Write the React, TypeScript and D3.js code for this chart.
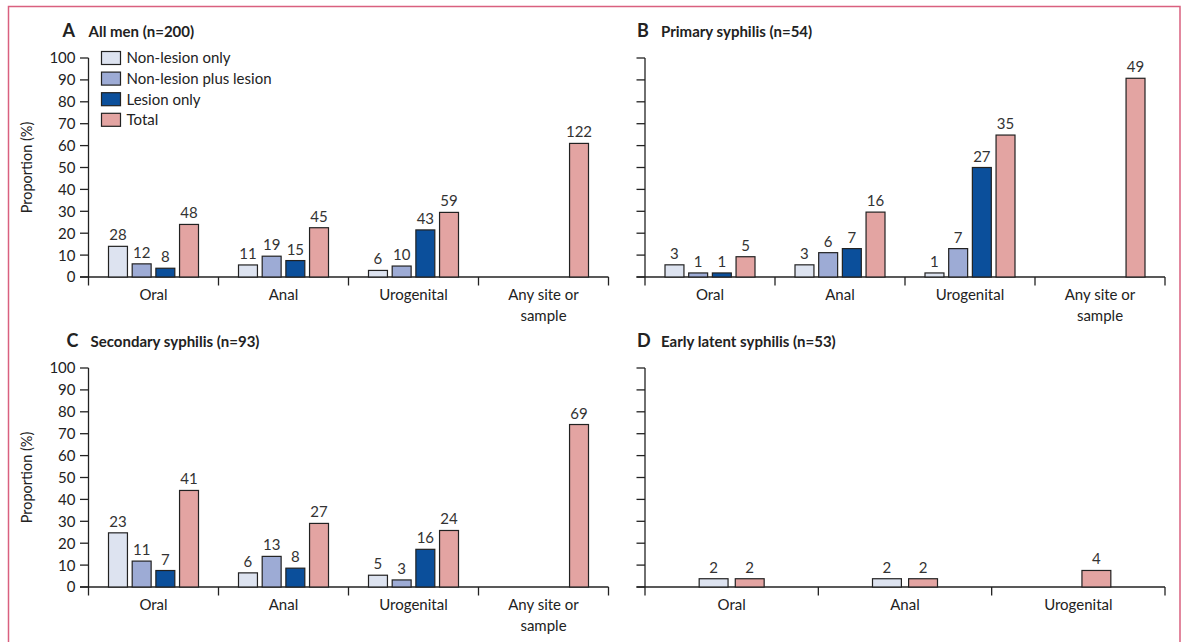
import React from "react";
import * as d3 from "d3";

// legend / series
const seriesNames = ["Non-lesion only", "Non-lesion plus lesion", "Lesion only", "Total"];
const seriesColors = ["#dde3f0", "#9dabd5", "#0b4f9b", "#e3a4a2"];

const sitesFour = ["Oral", "Anal", "Urogenital", "Any site or\nsample"];
const sitesThree = ["Oral", "Anal", "Urogenital"];
const yTicks = [0, 10, 20, 30, 40, 50, 60, 70, 80, 90, 100];

// A  All men (n=200) - counts
const aNonLesion = [28, 11, 6, null];
const aNonPlus = [12, 19, 10, null];
const aLesion = [8, 15, 43, null];
const aTotal = [48, 45, 59, 122];

// B  Primary syphilis (n=54)
const bNonLesion = [3, 3, 1, null];
const bNonPlus = [1, 6, 7, null];
const bLesion = [1, 7, 27, null];
const bTotal = [5, 16, 35, 49];

// C  Secondary syphilis (n=93)
const cNonLesion = [23, 6, 5, null];
const cNonPlus = [11, 13, 3, null];
const cLesion = [7, 8, 16, null];
const cTotal = [41, 27, 24, 69];

// D  Early latent syphilis (n=53)
const dNonLesion = [2, 2, null];
const dTotal = [2, 2, 4];

const FONT = "Lato, 'Open Sans', sans-serif";
const INK = "#222";

type PanelProps = {
  ox: number;
  oy: number;
  letter: string;
  title: string;
  letterDx: number;
  titleDx: number;
  n: number;
  sites: string[];
  slots: number[];
  values: (number | null)[][];
  groupWidth: number;
  yLabels: boolean;
  legend?: boolean;
};

const Panel = ({ ox, oy, letter, title, letterDx, titleDx, n, sites, slots, values, groupWidth, yLabels, legend }: PanelProps) => {
  const plotW = 520;
  const plotH = 219;
  const x = d3.scaleBand().domain(sites).range([0, plotW]).padding(0);
  const y = d3.scaleLinear().domain([0, 100]).range([0, -plotH]);
  const inner = d3
    .scaleBand<number>()
    .domain(slots)
    .range([-groupWidth / 2, groupWidth / 2])
    .paddingInner(0.2);
  const tick = 8.5;

  return (
    <g transform={`translate(${ox},${oy})`}>
      <text x={letterDx} y={-240} fontFamily={FONT} fontWeight="bold" fontSize={18} fill={INK}>{letter}</text>
      <text x={titleDx} y={-240} fontFamily={FONT} fontWeight="bold" fontSize={15} fill={INK}>{title}</text>

      {/* y axis */}
      <line x1={0} x2={0} y1={0} y2={y(100)} stroke={INK} strokeWidth={1.3} />
      {yTicks.map((t) => (
        <g key={t} transform={`translate(0,${y(t)})`}>
          <line x1={-tick} x2={0} stroke={INK} strokeWidth={1.3} />
          {yLabels && (
            <text x={-13} dy="0.36em" textAnchor="end" fontFamily={FONT} fontSize={15} fill={INK}>{t}</text>
          )}
        </g>
      ))}
      {yLabels && (
        <text transform={`translate(${-57},${y(50)}) rotate(-90)`} textAnchor="middle" fontFamily={FONT} fontSize={14.5} fill={INK}>
          Proportion (%)
        </text>
      )}

      {/* x axis */}
      <line x1={-tick} x2={plotW} y1={0} y2={0} stroke={INK} strokeWidth={1.3} />
      {[...sites.map((s) => x(s) as number), plotW].map((p, i) => (
        <line key={i} x1={p} x2={p} y1={0} y2={tick} stroke={INK} strokeWidth={1.3} />
      ))}
      {sites.map((s) => (
        <text key={s} x={(x(s) as number) + x.bandwidth() / 2} y={23} textAnchor="middle" fontFamily={FONT} fontSize={15} fill={INK}>
          {s.split("\n").map((line, i) => (
            <tspan key={i} x={(x(s) as number) + x.bandwidth() / 2} dy={i === 0 ? 0 : 20.5}>{line}</tspan>
          ))}
        </text>
      ))}

      {/* bars */}
      {sites.map((s, si) => {
        const cx = (x(s) as number) + x.bandwidth() / 2;
        return slots.map((slot, k) => {
          const v = values[k][si];
          if (v == null) return null;
          const pct = (v / n) * 100;
          const bx = cx + (inner(slot) as number);
          return (
            <g key={`${s}-${slot}`}>
              <rect x={bx} y={y(pct)} width={inner.bandwidth()} height={-y(pct)} fill={seriesColors[slot]} stroke={INK} strokeWidth={1.2} />
              <text x={bx + inner.bandwidth() / 2} y={y(pct) - 6} textAnchor="middle" fontFamily={FONT} fontSize={15} fill="#333">{v}</text>
            </g>
          );
        });
      })}

      {legend &&
        seriesNames.map((name, i) => (
          <g key={name} transform={`translate(13,${-219 + i * 20.6})`}>
            <rect x={0} y={-6.5} width={19} height={13} fill={seriesColors[i]} stroke={INK} strokeWidth={1.2} />
            <text x={25} dy="0.36em" fontFamily={FONT} fontSize={15} fill={INK}>{name}</text>
          </g>
        ))}
    </g>
  );
};

export default function App() {
  return (
    <svg width={1184} height={642} style={{ position: "absolute", left: 0, top: 0, background: "#fff" }}>
      <rect x={0} y={0} width={1184} height={642} fill="#fff" />
      <path d="M8.5,642 V6.5 H1180 V642" fill="none" stroke="#d9607f" strokeWidth={1.5} />
      <Panel ox={88.5} oy={277} letter="A" title="All men (n=200)" letterDx={-26} titleDx={0} n={200}
        sites={sitesFour} slots={[0, 1, 2, 3]} values={[aNonLesion, aNonPlus, aLesion, aTotal]} groupWidth={90} yLabels legend />
      <Panel ox={645} oy={277} letter="B" title="Primary syphilis (n=54)" letterDx={-8} titleDx={16} n={54}
        sites={sitesFour} slots={[0, 1, 2, 3]} values={[bNonLesion, bNonPlus, bLesion, bTotal]} groupWidth={90} yLabels={false} />
      <Panel ox={88.5} oy={587} letter="C" title="Secondary syphilis (n=93)" letterDx={-22} titleDx={2} n={93}
        sites={sitesFour} slots={[0, 1, 2, 3]} values={[cNonLesion, cNonPlus, cLesion, cTotal]} groupWidth={90} yLabels />
      <Panel ox={645} oy={587} letter="D" title="Early latent syphilis (n=53)" letterDx={-8} titleDx={16} n={53}
        sites={sitesThree} slots={[0, 3]} values={[dNonLesion, dTotal]} groupWidth={65} yLabels={false} />
    </svg>
  );
}
